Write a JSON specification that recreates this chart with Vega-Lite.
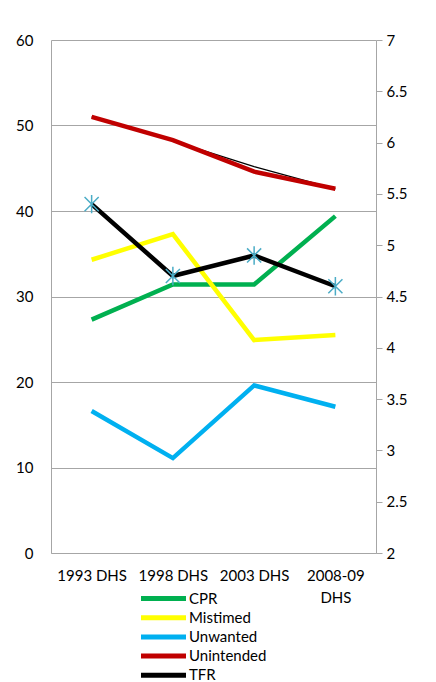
{
  "$schema": "https://vega.github.io/schema/vega-lite/v6.json",
  "width": 325,
  "height": 513,
  "autosize": {"type": "none"},
  "padding": {"left": 51, "top": 40, "right": 60, "bottom": 129},
  "background": "white",
  "config": {
    "font": "Lato",
    "view": {"stroke": null},
    "axis": {"labelFont": "Lato", "labelFontSize": 15, "labelColor": "#000000"},
    "legend": {"labelFont": "Lato", "labelFontSize": 15, "labelColor": "#000000"}
  },
  "data": {
    "values": [
      {"survey": "1993 DHS", "series": "CPR", "value": 27.3},
      {"survey": "1998 DHS", "series": "CPR", "value": 31.4},
      {"survey": "2003 DHS", "series": "CPR", "value": 31.4},
      {"survey": "2008-09 DHS", "series": "CPR", "value": 39.4},
      {"survey": "1993 DHS", "series": "Mistimed", "value": 34.3},
      {"survey": "1998 DHS", "series": "Mistimed", "value": 37.3},
      {"survey": "2003 DHS", "series": "Mistimed", "value": 24.9},
      {"survey": "2008-09 DHS", "series": "Mistimed", "value": 25.5},
      {"survey": "1993 DHS", "series": "Unwanted", "value": 16.6},
      {"survey": "1998 DHS", "series": "Unwanted", "value": 11.1},
      {"survey": "2003 DHS", "series": "Unwanted", "value": 19.6},
      {"survey": "2008-09 DHS", "series": "Unwanted", "value": 17.1},
      {"survey": "1993 DHS", "series": "Unintended", "value": 51.0},
      {"survey": "1998 DHS", "series": "Unintended", "value": 48.3},
      {"survey": "2003 DHS", "series": "Unintended", "value": 44.6},
      {"survey": "2008-09 DHS", "series": "Unintended", "value": 42.6},
      {"survey": "1993 DHS", "series": "Trend", "value": 51.0},
      {"survey": "1998 DHS", "series": "Trend", "value": 48.2},
      {"survey": "2003 DHS", "series": "Trend", "value": 45.2},
      {"survey": "2008-09 DHS", "series": "Trend", "value": 42.6},
      {"survey": "1993 DHS", "series": "TFR", "value": 5.4},
      {"survey": "1998 DHS", "series": "TFR", "value": 4.7},
      {"survey": "2003 DHS", "series": "TFR", "value": 4.9},
      {"survey": "2008-09 DHS", "series": "TFR", "value": 4.6}
    ]
  },
  "encoding": {
    "x": {
      "field": "survey",
      "type": "ordinal",
      "sort": ["1993 DHS", "1998 DHS", "2003 DHS", "2008-09 DHS"],
      "axis": {
        "title": null,
        "labelAngle": 0,
        "ticks": false,
        "domainColor": "#a6a6a6",
        "labelPadding": 15,
        "labelLineHeight": 22,
        "labelExpr": "datum.label == '2008-09 DHS' ? ['2008-09', 'DHS'] : datum.label"
      }
    }
  },
  "layer": [
    {
      "encoding": {
        "y": {
          "field": "value",
          "type": "quantitative",
          "scale": {"domain": [0, 60], "nice": false, "zero": false},
          "axis": {
            "title": null,
            "values": [0, 10, 20, 30, 40, 50, 60],
            "grid": true,
            "gridColor": "#a6a6a6",
            "domainColor": "#a6a6a6",
            "ticks": false,
            "labelPadding": 18
          }
        }
      },
      "layer": [
        {
          "transform": [{"filter": "datum.series == 'Trend'"}],
          "mark": {"type": "line", "color": "#000000", "strokeWidth": 1.3},
          "encoding": {}
        },
        {
          "transform": [{"filter": "datum.series != 'Trend' && datum.series != 'TFR'"}],
          "mark": {"type": "line", "strokeWidth": 4.5},
          "encoding": {
            "color": {
              "field": "series",
              "type": "nominal",
              "scale": {
                "domain": ["CPR", "Mistimed", "Unwanted", "Unintended", "TFR"],
                "range": ["#00b050", "#ffff00", "#00b0f0", "#c00000", "#000000"]
              },
              "legend": {
                "orient": "none",
                "legendX": 104,
                "legendY": 550,
                "direction": "vertical",
                "title": null,
                "symbolType": "M-3.75,0H3.75",
                "symbolStrokeWidth": 5,
                "symbolSize": 144,
                "labelOffset": 17,
                "rowPadding": -1.8
              }
            }
          }
        }
      ]
    },
    {
      "transform": [{"filter": "datum.series == 'TFR'"}],
      "encoding": {
        "y": {
          "field": "value",
          "type": "quantitative",
          "scale": {"domain": [2, 7], "nice": false, "zero": false},
          "axis": {
            "title": null,
            "orient": "right",
            "values": [2, 2.5, 3, 3.5, 4, 4.5, 5, 5.5, 6, 6.5, 7],
            "format": "~g",
            "grid": false,
            "domainColor": "#a6a6a6",
            "tickColor": "#a6a6a6",
            "tickSize": 6,
            "labelPadding": 4
          }
        }
      },
      "layer": [
        {
          "mark": {"type": "line", "strokeWidth": 4.5},
          "encoding": {"color": {"field": "series", "type": "nominal"}}
        },
        {
          "mark": {
            "type": "point",
            "filled": false,
            "shape": "M-1,-1L1,1M-1,1L1,-1M0,-1.3L0,1.3",
            "size": 200,
            "stroke": "#4bacc6",
            "strokeWidth": 1.5,
            "opacity": 1
          },
          "encoding": {}
        }
      ]
    }
  ],
  "resolve": {"scale": {"y": "independent"}, "axis": {"y": "independent"}}
}
